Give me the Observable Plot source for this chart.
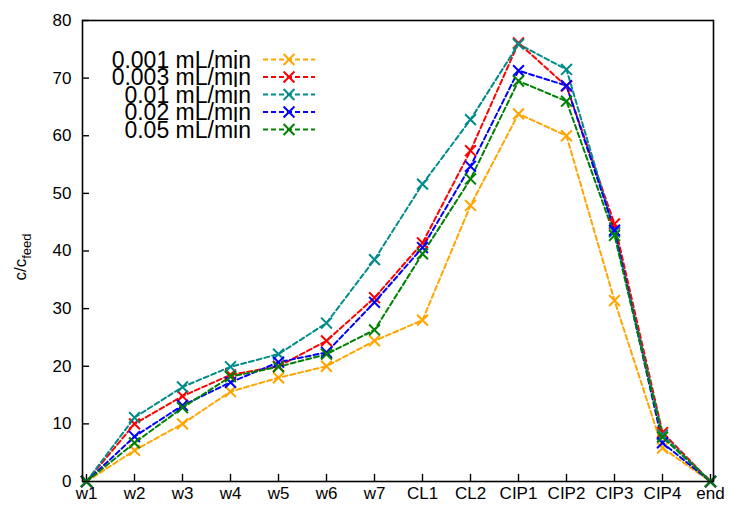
<!DOCTYPE html>
<html>
<head>
<meta charset="utf-8">
<script src="https://cdn.jsdelivr.net/npm/d3@7"></script>
<script src="https://cdn.jsdelivr.net/npm/@observablehq/plot@0.6"></script>
<style>
  html, body { margin: 0; padding: 0; background: #fff; }
  #chart svg { display: block; }
</style>
</head>
<body>
<div id="chart"></div>
<script>
// Sampling steps along the x axis
const categories = ["w1", "w2", "w3", "w4", "w5", "w6", "w7", "CL1", "CL2", "CIP1", "CIP2", "CIP3", "CIP4", "end"];

// Flow rate of each series
const seriesNames = ["0.001 mL/min", "0.003 mL/min", "0.01 mL/min", "0.02 mL/min", "0.05 mL/min"];
const seriesColors = ["#ffa500", "#ff0000", "#008b8b", "#0000ff", "#008000"];

// c/c_feed per step, one array per flow rate
const flow0001 = [0, 5.4, 10.0, 15.6, 18.0, 20.0, 24.4, 28.0, 47.9, 63.8, 60.0, 31.4, 5.8, 0];
const flow0003 = [0, 10.0, 14.8, 18.5, 20.0, 24.4, 31.9, 41.4, 57.4, 76.1, 68.6, 44.7, 8.5, 0];
const flow001  = [0, 11.1, 16.4, 19.9, 22.1, 27.5, 38.5, 51.6, 62.8, 75.9, 71.5, 43.3, 8.1, 0];
const flow002  = [0, 7.8, 13.2, 17.2, 20.7, 22.4, 31.1, 40.6, 54.7, 71.3, 68.7, 43.6, 6.7, 0];
const flow005  = [0, 6.7, 12.8, 18.2, 19.9, 22.1, 26.3, 39.5, 52.5, 69.5, 66.0, 42.7, 7.7, 0];

const yTicks = [0, 10, 20, 30, 40, 50, 60, 70, 80];

const seriesValues = [flow0001, flow0003, flow001, flow002, flow005];
const rows = seriesValues.flatMap((vals, s) =>
  vals.map((v, i) => ({ step: categories[i], value: v, series: seriesNames[s] }))
);

const font = "'Liberation Sans', Arial, Helvetica, sans-serif";
const dash = "5,3";
const lineWidth = 2;

const colorScale = { domain: seriesNames, range: seriesColors };

const svg = Plot.plot({
  width: 729,
  height: 508,
  marginLeft: 82,
  marginRight: 16,
  marginTop: 20,
  marginBottom: 27,
  style: { fontFamily: font, fontSize: "17px", color: "#000", background: "#fff" },
  x: { type: "point", domain: categories, padding: 0, label: null },
  y: { domain: [0, 80], label: null },
  color: colorScale,
  marks: [
    // inward tick marks
    Plot.axisX({ tickSize: -7, text: null, strokeWidth: 1.4, stroke: "#000" }),
    Plot.axisY({ ticks: yTicks, tickSize: -7, text: null, strokeWidth: 1.4, stroke: "#000" }),
    // tick labels
    Plot.axisX({ tickSize: 0, tickPadding: 5, label: null }),
    Plot.axisY({ ticks: yTicks, tickSize: 0, tickPadding: 11, label: null }),
    Plot.line(rows, {
      x: "step", y: "value", z: "series", stroke: "series",
      strokeWidth: lineWidth, strokeDasharray: dash
    }),
    Plot.dot(rows, {
      x: "step", y: "value", stroke: "series",
      symbol: "times", r: 5, strokeWidth: lineWidth
    }),
    Plot.frame({ stroke: "#000", strokeWidth: 1.6 })
  ]
});

document.getElementById("chart").appendChild(svg);

const root = d3.select(svg);

// y axis title: c/c with subscript "feed"
const yTitle = root.append("text")
  .attr("transform", "translate(26,257) rotate(-90)")
  .attr("text-anchor", "middle")
  .attr("font-family", font)
  .attr("font-size", 17)
  .attr("fill", "#000");
yTitle.append("tspan").text("c/c");
yTitle.append("tspan").attr("font-size", 13).attr("dy", 5).text("feed");

// key in the upper left of the plot area
const legend = root.append("g").attr("font-family", font);
const legendRight = 251, sampleX1 = 263, sampleX2 = 315, legendTop = 59.5, legendStep = 17.5;
seriesNames.forEach((name, i) => {
  const y = legendTop + i * legendStep;
  legend.append("text")
    .attr("x", legendRight).attr("y", y)
    .attr("dy", "0.36em")
    .attr("text-anchor", "end")
    .attr("font-size", 23)
    .attr("fill", "#000")
    .text(name);
  legend.append("line")
    .attr("x1", sampleX1).attr("x2", sampleX2)
    .attr("y1", y).attr("y2", y)
    .attr("stroke", seriesColors[i])
    .attr("stroke-width", lineWidth)
    .attr("stroke-dasharray", dash);
  legend.append("path")
    .attr("transform", `translate(${(sampleX1 + sampleX2) / 2},${y})`)
    .attr("d", d3.symbol(d3.symbolTimes, Math.PI * 25)())
    .attr("fill", "none")
    .attr("stroke", seriesColors[i])
    .attr("stroke-width", lineWidth);
});
</script>
</body>
</html>
